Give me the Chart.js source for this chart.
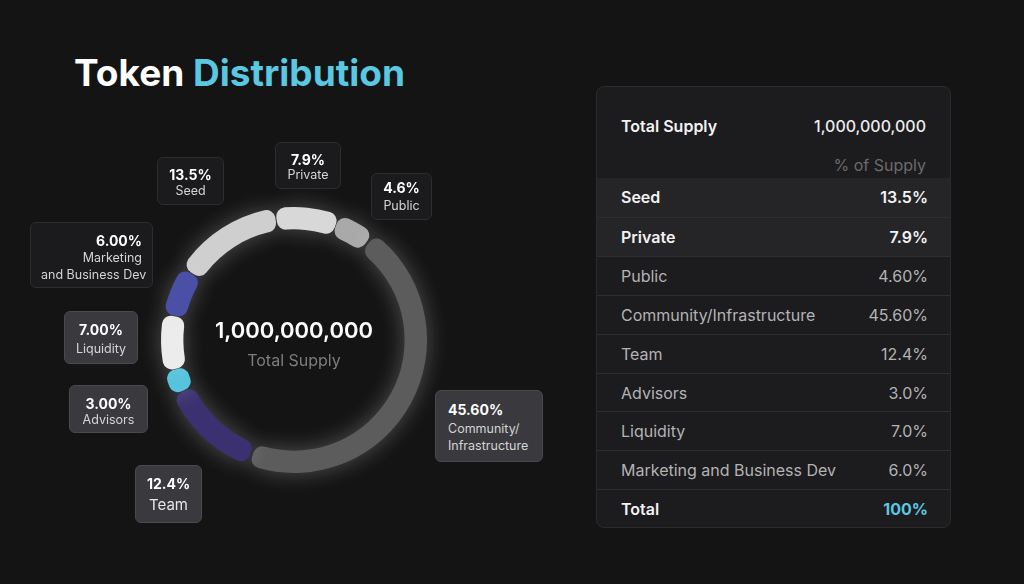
<!DOCTYPE html>
<html><head><meta charset="utf-8">
<script src="https://cdn.jsdelivr.net/npm/chart.js@4"></script>
<style>
html,body{margin:0;padding:0;background:#141414;width:1024px;height:584px;overflow:hidden;font-family:Inter,'Noto Sans',sans-serif;}
#title{position:absolute;left:74px;top:50px;font-size:37px;font-weight:700;letter-spacing:0px;line-height:46px;white-space:nowrap;}
#title .w{color:#ffffff;}
#title .c{color:#5ac8e0;}
#chartWrap{position:absolute;left:124px;top:170px;width:340px;height:340px;z-index:1;}
.box{position:absolute;border-radius:6px;box-sizing:border-box;z-index:2;}
.box.dark{background:#1b1b1d;border:1px solid #2d2d30;}
.box.light{background:#3a393d;border:1px solid #4a494e;}
.ln{position:absolute;height:20px;line-height:20px;white-space:nowrap;}
.ln.v{color:#ffffff;font-weight:700;font-size:14px;}
.ln.n{color:#d4d4d4;font-weight:400;font-size:12.5px;}
#panel{position:absolute;left:596px;top:86px;width:355px;height:442px;background:#1c1b1e;border:1px solid #2b2b2e;border-radius:8px;box-sizing:border-box;overflow:hidden;}
.prow{position:absolute;left:0;width:353px;box-sizing:border-box;}
.prow .l{position:absolute;left:24px;top:0;white-space:nowrap;}
.prow .r{position:absolute;right:22px;top:0;white-space:nowrap;}
</style></head>
<body>
<div id="title"><span class="w">Token</span> <span class="c">Distribution</span></div>
<div id="chartWrap"><canvas id="c" width="340" height="340"></canvas></div>
<div id="labels"></div>
<div id="panel"></div>
<script>
// ---- data ----
const categories = ['Seed','Private','Public','Community/Infrastructure','Team','Advisors','Liquidity','Marketing and Business Dev'];
const shares = [13.5, 7.9, 4.6, 45.6, 12.4, 3.0, 7.0, 6.0];
const tableValues = ['13.5%','7.9%','4.60%','45.60%','12.4%','3.0%','7.0%','6.0%'];
const calloutValues = ['13.5%','7.9%','4.6%','45.60%','12.4%','3.00%','7.00%','6.00%'];
const calloutNames = [['Seed'],['Private'],['Public'],['Community/','Infrastructure'],['Team'],['Advisors'],['Liquidity'],['Marketing','and Business Dev']];
const totalSupplyText = '1,000,000,000';
const totalSupplyLabel = 'Total Supply';
const shareHeader = '% of Supply';
const totalLabel = 'Total';
const totalShare = '100%';
const highlighted = ['Seed','Private'];

// ---- style ----
const colors = ['#cfcfcf','#d8d8d8','#a9a9a9','#5c5c5c','#3c3170','#55c4dc','#ececec','#4b4fa6'];
// callout layout: box [x,y,w,h], align, line centre ys, box style
const calloutLayout = [
  {box:[157,157,67,48], align:'center', ys:[175,191], kind:'dark'},
  {box:[275,142,66,47], align:'center', ys:[160,175], kind:'dark'},
  {box:[371,173,61,47], align:'center', ys:[188,206], kind:'dark'},
  {box:[435,390,108,72], align:'left', pad:13, ys:[410,429,446], kind:'light'},
  {box:[135,465,67,58], align:'center', ys:[484,505], kind:'light', big:true},
  {box:[69,385,79,48], align:'center', ys:[404,420], kind:'light'},
  {box:[64,311,74,53], align:'center', ys:[330,349], kind:'light'},
  {box:[30,222,123,66], align:'right', pad:11, ys:[241,258,275], kind:'dark'}
];

// ---- callouts ----
const labelsEl = document.getElementById('labels');
calloutLayout.forEach((L, i) => {
  const b = document.createElement('div');
  b.className = 'box ' + L.kind;
  b.style.left = L.box[0] + 'px'; b.style.top = L.box[1] + 'px';
  b.style.width = L.box[2] + 'px'; b.style.height = L.box[3] + 'px';
  labelsEl.appendChild(b);
  const lines = [calloutValues[i]].concat(calloutNames[i]);
  lines.forEach((t, j) => {
    const d = document.createElement('div');
    d.className = 'ln ' + (j === 0 ? 'v' : 'n');
    d.textContent = t;
    if (L.big && j > 0) { d.style.fontSize = '15px'; d.style.color = '#e6e6e6'; }
    d.style.top = (L.ys[j] - 10) + 'px';
    d.style.width = (L.box[2] - (L.pad || 0) * 2) + 'px';
    d.style.left = (L.box[0] + (L.pad || 0)) + 'px';
    d.style.textAlign = L.align;
    d.style.zIndex = 3;
    labelsEl.appendChild(d);
  });
});

// ---- table ----
const panel = document.getElementById('panel');
function addRow(top, h, left, right, lStyle, rStyle, bg, border) {
  const r = document.createElement('div');
  r.className = 'prow';
  r.style.top = top + 'px'; r.style.height = h + 'px';
  if (bg) r.style.background = bg;
  if (border) r.style.borderTop = '1px solid ' + border;
  const a = document.createElement('div'); a.className = 'l'; a.textContent = left;
  a.style.lineHeight = h + 'px'; Object.assign(a.style, lStyle);
  const b = document.createElement('div'); b.className = 'r'; b.textContent = right;
  b.style.lineHeight = h + 'px'; Object.assign(b.style, rStyle);
  r.appendChild(a); r.appendChild(b); panel.appendChild(r);
}
const boldW = {color:'#f2f2f2', fontWeight:'600', fontSize:'16px'};
const regG = {color:'#b3b3b3', fontWeight:'400', fontSize:'16px'};
addRow(19, 40, totalSupplyLabel, totalSupplyText, boldW, {color:'#ececec', fontWeight:'500', fontSize:'16px', right:'24px'});
addRow(58, 40, '', shareHeader, regG, {color:'#6b6b6b', fontWeight:'400', fontSize:'16px', right:'24px'});
const rowH = 38.9, rowTop = 91;
categories.forEach((c, i) => {
  const hl = highlighted.includes(c);
  addRow(rowTop + i * rowH, rowH, c, tableValues[i], hl ? boldW : regG, hl ? boldW : regG,
         hl ? '#252528' : null, i === 0 ? null : '#2e2e32');
});
addRow(rowTop + categories.length * rowH, rowH, totalLabel, totalShare, boldW,
       {color:'#5ac8e0', fontWeight:'700', fontSize:'16px'}, null, '#2e2e32');

// ---- chart ----
const glow = {
  id:'glow',
  beforeDatasetsDraw(chart){ const c = chart.ctx; c.save(); c.shadowColor='rgba(225,225,240,0.30)'; c.shadowBlur=22; },
  afterDatasetsDraw(chart){ chart.ctx.restore(); }
};
const centerText = {
  id:'centerText',
  afterDraw(chart){
    const c = chart.ctx, a = chart.chartArea;
    const cx = (a.left + a.right) / 2, cy = (a.top + a.bottom) / 2;
    c.save();
    c.textAlign = 'center'; c.textBaseline = 'middle';
    c.fillStyle = '#ffffff'; c.font = '600 22px Inter';
    c.fillText(totalSupplyText, cx, cy - 9);
    c.fillStyle = '#7d7d7d'; c.font = '400 16px Inter';
    c.fillText(totalSupplyLabel, cx, cy + 21);
    c.restore();
  }
};
new Chart(document.getElementById('c'), {
  type:'doughnut',
  data:{labels:categories, datasets:[{data:shares, backgroundColor:colors, borderWidth:0, borderRadius:9, spacing:3}]},
  options:{
    responsive:false, animation:false, rotation:-57, cutout:'83%',
    layout:{padding:37},
    plugins:{legend:{display:false}, tooltip:{enabled:false}}
  },
  plugins:[glow, centerText]
});
</script>
</body></html>
